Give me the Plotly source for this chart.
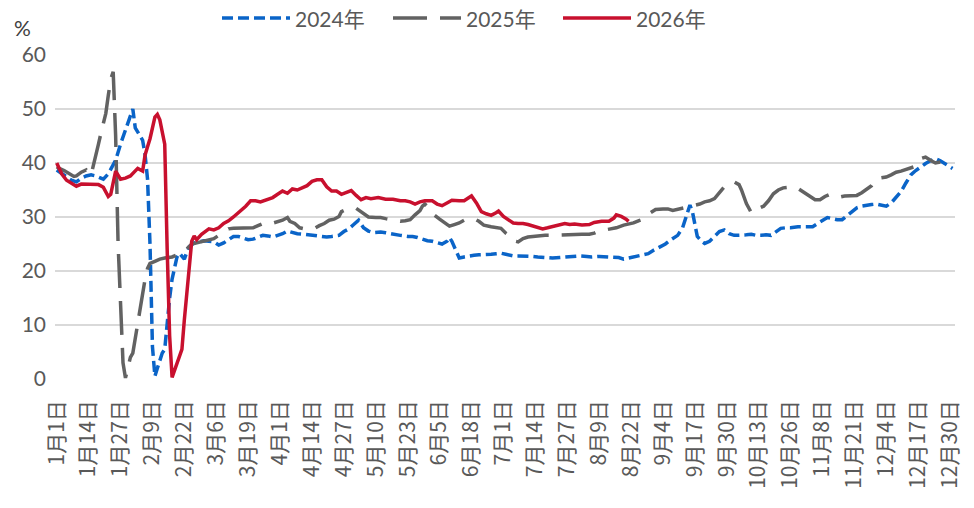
import plotly.graph_objects as go

# 横轴按闰年日历（2024）排列，月-日
dates_2024 = [
    "01-01", "01-03", "01-05", "01-07", "01-09", "01-11", "01-13", "01-15", "01-17", "01-20",
    "01-22", "01-24", "01-25", "01-27", "01-28", "01-30", "02-01", "02-02", "02-03", "02-04",
    "02-05", "02-06", "02-07", "02-08", "02-09", "02-10", "02-11", "02-12", "02-13", "02-14",
    "02-15", "02-16", "02-17", "02-18", "02-19", "02-20", "02-21", "02-22", "02-23", "02-24",
    "02-26", "02-28", "03-01", "03-03", "03-05", "03-07", "03-09", "03-11", "03-13", "03-15",
    "03-17", "03-19", "03-21", "03-23", "03-25", "03-27", "03-29", "03-31", "04-02", "04-04",
    "04-06", "04-08", "04-11", "04-14", "04-17", "04-20", "04-22", "04-25", "04-27", "04-29",
    "05-01", "05-03", "05-05", "05-07", "05-09", "05-12", "05-14", "05-17", "05-20", "05-23",
    "05-25", "05-27", "05-29", "05-31", "06-02", "06-04", "06-06", "06-08", "06-09", "06-10",
    "06-11", "06-12", "06-13", "06-15", "06-17", "06-19", "06-21", "06-24", "06-26", "06-28",
    "06-30", "07-02", "07-05", "07-07", "07-10", "07-13", "07-15", "07-18", "07-21", "07-24",
    "07-26", "07-29", "08-01", "08-04", "08-06", "08-09", "08-12", "08-15", "08-17", "08-19",
    "08-21", "08-24", "08-26", "08-29", "08-31", "09-02", "09-05", "09-07", "09-10", "09-12",
    "09-13", "09-14", "09-15", "09-16", "09-17", "09-18", "09-20", "09-21", "09-23", "09-25",
    "09-27", "09-29", "10-01", "10-03", "10-05", "10-08", "10-10", "10-12", "10-14", "10-16",
    "10-18", "10-20", "10-22", "10-24", "10-26", "10-29", "10-31", "11-02", "11-04", "11-06",
    "11-08", "11-10", "11-12", "11-14", "11-16", "11-18", "11-20", "11-22", "11-24", "11-26",
    "11-28", "11-30", "12-02", "12-04", "12-06", "12-08", "12-10", "12-12", "12-14", "12-16",
    "12-18", "12-20", "12-22", "12-24", "12-26", "12-28", "12-31",
]
values_2024 = [
    38.7, 38.0, 37.4, 36.8, 36.5, 37.2, 37.6, 37.8, 37.6, 37.0,
    38.0, 39.5, 40.5, 43.5, 44.8, 47.5, 50.0, 46.5, 45.6, 45.0,
    44.2, 41.5, 37.0, 25.0, 6.0, 0.5, 2.0, 3.5, 4.8, 5.5,
    10.5, 15.0, 18.5, 20.8, 22.6, 23.3, 22.8, 22.2, 23.5, 24.5,
    25.2, 25.4, 25.6, 25.5, 25.4, 24.8, 25.2, 25.8, 26.4, 26.4,
    26.1, 25.8, 25.9, 26.2, 26.6, 26.5, 26.3, 26.6, 26.9, 27.4,
    27.1, 26.9, 26.8, 26.6, 26.4, 26.3, 26.4, 26.6, 27.3, 27.8,
    28.6, 29.4, 28.0, 27.4, 27.1, 27.2, 27.1, 26.8, 26.6, 26.4,
    26.4, 26.2, 25.9, 25.6, 25.5, 25.3, 25.0, 25.5, 26.2, 25.5,
    24.5, 23.2, 22.4, 22.6, 22.8, 22.9, 23.0, 23.0, 23.1, 23.2,
    23.3, 23.1, 22.8, 22.8, 22.8, 22.7, 22.6, 22.5, 22.4, 22.5,
    22.6, 22.7, 22.8, 22.7, 22.6, 22.7, 22.6, 22.5, 22.5, 22.2,
    22.4, 22.8, 22.9, 23.2, 23.8, 24.3, 25.0, 25.7, 26.6, 28.0,
    29.5, 31.0, 32.2, 31.0, 28.8, 26.4, 25.4, 25.1, 25.5, 26.4,
    27.3, 27.6, 26.9, 26.6, 26.6, 26.7, 26.8, 26.6, 26.6, 26.7,
    26.6, 27.3, 27.9, 28.0, 28.0, 28.2, 28.2, 28.1, 28.2, 28.8,
    29.3, 29.9, 29.7, 29.5, 29.5, 30.3, 31.0, 31.7, 32.0, 32.2,
    32.3, 32.4, 32.2, 32.0, 32.6, 33.6, 34.7, 36.3, 37.8, 38.6,
    39.3, 39.9, 40.4, 40.8, 40.4, 39.8, 39.0,
]

dates_2025 = [
    "01-01", "01-02", "01-04", "01-06", "01-08", "01-09", "01-11", "01-13", "01-14", "01-15",
    "01-16", "01-17", "01-18", "01-19", "01-20", "01-21", "01-22", "01-23", "01-24", "01-25",
    "01-26", "01-27", "01-28", "01-29", "01-30", "01-31", "02-01", "02-02", "02-03", "02-04",
    "02-05", "02-06", "02-07", "02-08", "02-10", "02-12", "02-14", "02-16", "02-17", "02-19",
    "02-21", "02-23", "02-25", "02-27", "03-01", "03-03", "03-05", "03-07", "03-09", "03-11",
    "03-13", "03-15", "03-17", "03-19", "03-21", "03-23", "03-25", "03-27", "03-29", "03-31",
    "04-02", "04-04", "04-05", "04-07", "04-09", "04-11", "04-13", "04-15", "04-17", "04-19",
    "04-21", "04-23", "04-25", "04-26", "04-28", "04-30", "05-02", "05-03", "05-05", "05-07",
    "05-10", "05-12", "05-14", "05-16", "05-18", "05-20", "05-22", "05-24", "05-26", "05-28",
    "05-29", "05-30", "06-01", "06-03", "06-05", "06-07", "06-09", "06-11", "06-13", "06-15",
    "06-17", "06-19", "06-21", "06-23", "06-26", "06-28", "06-30", "07-02", "07-04", "07-05",
    "07-07", "07-09", "07-11", "07-13", "07-15", "07-18", "07-21", "07-25", "07-29", "08-02",
    "08-05", "08-07", "08-09", "08-12", "08-16", "08-19", "08-23", "08-25", "08-27", "08-29",
    "09-01", "09-04", "09-06", "09-08", "09-10", "09-12", "09-14", "09-16", "09-19", "09-21",
    "09-23", "09-25", "09-27", "09-29", "10-01", "10-03", "10-05", "10-06", "10-08", "10-10",
    "10-12", "10-13", "10-15", "10-17", "10-19", "10-21", "10-23", "10-25", "10-27", "10-29",
    "11-01", "11-03", "11-05", "11-07", "11-09", "11-11", "11-13", "11-15", "11-17", "11-20",
    "11-22", "11-24", "11-26", "11-28", "11-30", "12-02", "12-04", "12-06", "12-08", "12-10",
    "12-12", "12-14", "12-16", "12-18", "12-20", "12-22", "12-24", "12-26",
]
values_2025 = [
    39.3, 39.0, 38.6, 38.0, 37.5, 37.6, 38.3, 38.7, 38.0, 37.8,
    39.5, 41.8, 43.5, 45.5, 47.2, 49.2, 52.5, 55.5, 56.9, 45.0,
    25.0, 12.0, 3.0, 0.2, 2.5, 4.0, 4.8, 7.5, 10.9, 13.5,
    15.8, 18.5, 20.5, 21.4, 21.8, 22.2, 22.4, 22.5, 22.6, 23.0,
    23.5, 24.1, 25.0, 25.2, 25.6, 25.8, 26.0, 26.6, 27.3, 27.8,
    27.9, 27.9, 27.9, 27.9, 28.0, 28.4, 28.8, 28.6, 28.9, 29.1,
    29.4, 29.9, 29.2, 28.8, 28.0, 27.8, 27.8, 27.9, 28.4, 28.8,
    29.4, 29.6, 30.1, 31.0, 31.4, 31.6, 31.6, 31.3, 30.6, 30.0,
    29.9, 29.9, 29.7, 29.5, 29.3, 29.2, 29.3, 29.5, 30.4, 31.2,
    32.0, 32.4, 31.6, 30.3, 29.6, 29.0, 28.3, 28.6, 28.9, 29.4,
    29.6, 29.7, 29.2, 28.5, 28.2, 28.0, 27.9, 27.0, 26.4, 25.6,
    25.4, 26.0, 26.3, 26.4, 26.5, 26.6, 26.6, 26.7, 26.8, 26.8,
    26.8, 27.0, 27.4, 27.7, 28.0, 28.5, 28.9, 29.3, 29.6, 30.5,
    31.4, 31.5, 31.5, 31.2, 31.4, 31.6, 31.8, 32.0, 32.4, 32.8,
    33.0, 33.4, 34.4, 35.6, 36.3, 36.5, 36.0, 35.0, 32.5, 30.8,
    31.0, 31.6, 32.0, 33.0, 34.3, 35.0, 35.4, 35.5, 35.6, 35.3,
    34.3, 33.8, 33.2, 33.2, 33.8, 34.2, 33.9, 33.7, 33.9, 34.0,
    34.0, 34.5, 35.2, 35.8, 37.1, 37.2, 37.4, 37.8, 38.3, 38.5,
    38.8, 39.2, 39.4, 40.8, 41.1, 40.5, 40.0, 40.2,
]

dates_2026 = [
    "01-01", "01-03", "01-05", "01-07", "01-09", "01-11", "01-14", "01-18", "01-20", "01-22",
    "01-23", "01-25", "01-27", "01-29", "01-31", "02-03", "02-05", "02-06", "02-07", "02-08",
    "02-10", "02-11", "02-12", "02-14", "02-15", "02-16", "02-17", "02-19", "02-21", "02-22",
    "02-24", "02-25", "02-26", "02-27", "02-29", "03-03", "03-05", "03-07", "03-09", "03-11",
    "03-13", "03-16", "03-18", "03-20", "03-22", "03-24", "03-26", "03-29", "03-31", "04-02",
    "04-04", "04-06", "04-08", "04-10", "04-12", "04-14", "04-16", "04-18", "04-20", "04-22",
    "04-24", "04-26", "04-28", "04-30", "05-02", "05-04", "05-06", "05-08", "05-11", "05-14",
    "05-17", "05-20", "05-22", "05-24", "05-26", "05-28", "05-30", "06-02", "06-04", "06-06",
    "06-08", "06-10", "06-13", "06-15", "06-17", "06-18", "06-20", "06-22", "06-24", "06-26",
    "06-28", "06-29", "07-01", "07-03", "07-05", "07-07", "07-09", "07-11", "07-13", "07-15",
    "07-17", "07-19", "07-21", "07-23", "07-26", "07-28", "07-30", "08-02", "08-05", "08-07",
    "08-10", "08-13", "08-15", "08-16", "08-18", "08-20", "08-21",
]
values_2026 = [
    40.0, 38.0, 36.8, 36.2, 35.7, 36.1, 36.0, 36.0, 35.5, 33.8,
    34.2, 38.5, 37.0, 37.2, 37.6, 39.0, 38.5, 41.5, 43.0, 44.5,
    48.5, 49.0, 48.0, 43.5, 24.0, 8.0, 0.3, 3.0, 5.5, 11.0,
    20.0, 25.5, 26.5, 25.8, 26.8, 27.8, 27.6, 28.0, 28.8, 29.3,
    30.0, 31.1, 32.0, 33.0, 33.0, 32.8, 33.1, 33.6, 34.2, 34.8,
    34.4, 35.2, 35.0, 35.4, 35.8, 36.6, 36.9, 36.9, 35.6, 34.8,
    34.8, 34.2, 34.6, 34.9, 34.0, 33.2, 33.6, 33.4, 33.6, 33.3,
    33.3, 33.0, 33.0, 32.8, 32.4, 32.8, 33.0, 33.0, 32.4, 32.1,
    32.6, 33.1, 33.0, 33.0, 33.6, 33.9, 32.6, 31.0, 30.6, 30.3,
    30.8, 31.1, 30.1, 29.4, 28.9, 28.8, 28.8, 28.6, 28.3, 28.0,
    27.8, 28.0, 28.2, 28.5, 28.8, 28.6, 28.7, 28.5, 28.6, 29.0,
    29.2, 29.2, 29.8, 30.4, 30.1, 29.6, 29.2,
]

tick_dates = [
    "01-01", "01-14", "01-27", "02-09", "02-22", "03-06", "03-19", "04-01", "04-14", "04-27",
    "05-10", "05-23", "06-05", "06-18", "07-01", "07-14", "07-27", "08-09", "08-22", "09-04",
    "09-17", "09-30", "10-13", "10-26", "11-08", "11-21", "12-04", "12-17", "12-30",
]
tick_text = [f"{int(d[:2])}月{int(d[3:])}日" for d in tick_dates]

BLUE = "#0A64C8"
GRAY = "#626262"
RED = "#C8102E"
TEXT = "#595959"


def to_x(days):
    return ["2024-" + d for d in days]


fig = go.Figure()

fig.add_trace(go.Scatter(
    x=to_x(dates_2024), y=values_2024, mode="lines", name="2024年",
    line=dict(color=BLUE, width=3.5, dash="11px,5px"),
))
fig.add_trace(go.Scatter(
    x=to_x(dates_2025), y=values_2025, mode="lines", name="2025年",
    line=dict(color=GRAY, width=3.5, dash="34px,13px"),
))
fig.add_trace(go.Scatter(
    x=to_x(dates_2026), y=values_2026, mode="lines", name="2026年",
    line=dict(color=RED, width=3.5),
))

# 图例：手工绘制，线段更长
legend_items = [
    ("2024年", BLUE, "11px,5px", 222),
    ("2025年", GRAY, "34px,13px", 393),
    ("2026年", RED, "solid", 563),
]
for label, color, dash, px in legend_items:
    x0 = (px - 55) / 900
    x1 = (px + 68 - 55) / 900
    fig.add_shape(type="line", xref="paper", yref="paper", x0=x0, x1=x1,
                  y0=1.114, y1=1.114, line=dict(color=color, width=3.5, dash=dash))
    fig.add_annotation(xref="paper", yref="paper", x=x1 + 3 / 900, y=1.114,
                       text=label, showarrow=False, xanchor="left", yanchor="middle",
                       font=dict(size=21, color=TEXT))

fig.add_annotation(xref="paper", yref="paper", x=-0.036, y=1.085, text="%",
                   showarrow=False, xanchor="center", yanchor="middle",
                   font=dict(size=21, color="#404040"))

fig.update_layout(
    width=974, height=508,
    margin=dict(l=55, r=19, t=55, b=129),
    paper_bgcolor="white", plot_bgcolor="white",
    font=dict(family="Lato, 'Noto Sans CJK SC', sans-serif", color=TEXT),
    showlegend=False,
)
fig.update_xaxes(
    type="date",
    range=["2023-12-31 07:00", "2025-01-01 00:00"],
    tickvals=to_x(tick_dates), ticktext=tick_text, tickangle=-90,
    tickfont=dict(size=21, family="'Noto Sans CJK SC', sans-serif", color=TEXT),
    showgrid=False, zeroline=False, showline=False,
    ticks="", ticklabelstandoff=16,
)
fig.update_yaxes(
    range=[0, 60], dtick=10,
    showgrid=True, gridcolor="#D9D9D9", gridwidth=1.5,
    zeroline=False, showline=False,
    tickfont=dict(size=21, color=TEXT), ticklabelstandoff=8,
)

# 去掉页面默认边距，让图表贴齐窗口左上角；隐藏工具栏
fig.write_html(
    "out.html",
    config={"displayModeBar": False},
    post_script="document.body.style.margin='0';document.body.style.overflow='hidden';",
)
